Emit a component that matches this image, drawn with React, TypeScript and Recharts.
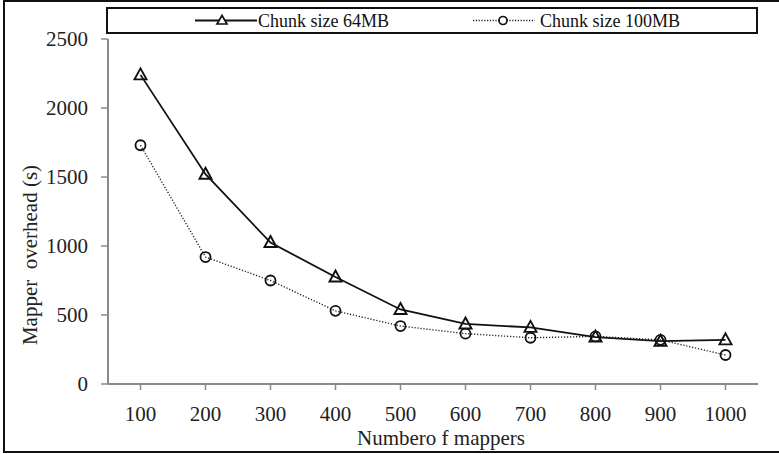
import React from "react";
import { LineChart, Line, XAxis, YAxis, Legend } from "recharts";

const categories = ["100", "200", "300", "400", "500", "600", "700", "800", "900", "1000"];
const chunk64 = [2240, 1520, 1025, 775, 540, 435, 410, 340, 310, 320];
const chunk100 = [1730, 920, 750, 530, 420, 365, 335, 345, 320, 210];
const yTicks = [0, 500, 1000, 1500, 2000, 2500];

const data = categories.map((c, i) => ({ x: c, s64: chunk64[i], s100: chunk100[i] }));

const FONT = '"Liberation Serif", "Times New Roman", serif';
const AXIS_GRAY = "#8a8a8a";

const TriangleDot = (props: any) => {
  const { cx, cy, index } = props;
  if (cx == null || cy == null) return <g key={index} />;
  return (
    <path
      key={index}
      d={`M${cx},${cy - 6.5} L${cx + 6},${cy + 4.5} L${cx - 6},${cy + 4.5} Z`}
      fill="none"
      stroke="#111"
      strokeWidth={1.9}
    />
  );
};

const CircleDot = (props: any) => {
  const { cx, cy, index } = props;
  if (cx == null || cy == null) return <g key={index} />;
  return <circle key={index} cx={cx} cy={cy} r={5} fill="none" stroke="#111" strokeWidth={1.8} />;
};

const LegendContent = () => (
  <div
    style={{
      width: "100%",
      height: "100%",
      boxSizing: "border-box",
      border: "2px solid #111",
      position: "relative",
      fontFamily: FONT,
      fontSize: 18,
      color: "#111",
    }}
  >
    <svg width={652} height={27} style={{ position: "absolute", left: -2, top: -2 }}>
      <line x1={89} y1={13.5} x2={151} y2={13.5} stroke="#111" strokeWidth={1.8} />
      <path d="M116,8.5 L121,17 L111,17 Z" fill="#fff" stroke="#111" strokeWidth={1.7} />
      <text x={152} y={19.5} fontFamily={FONT} fontSize={18} fill="#111">
        Chunk size 64MB
      </text>
      <line x1={367} y1={13.5} x2={429} y2={13.5} stroke="#222" strokeWidth={1.4} strokeDasharray="1.2 1.6" />
      <circle cx={397} cy={13.5} r={4} fill="#fff" stroke="#111" strokeWidth={1.7} />
      <text x={434} y={19.5} fontFamily={FONT} fontSize={18} fill="#111">
        Chunk size 100MB
      </text>
    </svg>
  </div>
);

export default function App() {
  return (
    <div
      style={{
        position: "absolute",
        left: 0,
        top: 0,
        width: 779,
        height: 454,
        overflow: "hidden",
        background: "#fff",
      }}
    >
      <div
        style={{
          position: "absolute",
          left: 3,
          top: 0,
          width: 820,
          height: 449,
          border: "2px solid #111",
        }}
      />
      <div style={{ position: "absolute", left: 0, top: 0 }}>
        <LineChart
          width={779}
          height={454}
          data={data}
          margin={{ top: 39, right: 21, bottom: 0, left: 0 }}
        >
          <XAxis
            dataKey="x"
            xAxisId="main"
            height={70}
            padding={{ left: 32.5, right: 32.5 }}
            axisLine={{ stroke: AXIS_GRAY, strokeWidth: 2 }}
            tickLine={{ stroke: AXIS_GRAY, strokeWidth: 1.5 }}
            tickSize={6}
            tickMargin={16}
            tick={{ fontFamily: FONT, fontSize: 21, fill: "#222" }}
            interval={0}
            label={(p: any) => (
              <text
                x={441}
                y={445}
                textAnchor="middle"
                fontFamily={FONT}
                fontSize={21}
                fill="#222"
              >
                Numbero f mappers
              </text>
            )}
          />
          <XAxis
            dataKey="x"
            xAxisId="top"
            orientation="top"
            height={0}
            padding={{ left: 32.5, right: 32.5 }}
            axisLine={{ stroke: "#111", strokeWidth: 2 }}
            tick={false}
            tickLine={false}
          />
          <YAxis
            yAxisId="main"
            width={108}
            domain={[0, 2500]}
            ticks={yTicks}
            axisLine={{ stroke: AXIS_GRAY, strokeWidth: 2 }}
            tickLine={{ stroke: AXIS_GRAY, strokeWidth: 1.5 }}
            tickSize={7}
            tickMargin={13}
            tick={{ fontFamily: FONT, fontSize: 21, fill: "#222" }}
            label={(p: any) => (
              <text
                x={37}
                y={255}
                transform="rotate(-90 37 255)"
                textAnchor="middle"
                fontFamily={FONT}
                fontSize={21}
                fill="#222"
                style={{ whiteSpace: "pre" }}
              >
                {"Mapper\u00a0 overhead (s)"}
              </text>
            )}
          />
          <YAxis
            yAxisId="right"
            orientation="right"
            width={0}
            domain={[0, 2500]}
            axisLine={{ stroke: "#111", strokeWidth: 2 }}
            tick={false}
            tickLine={false}
          />
          <Legend
            layout="horizontal"
            verticalAlign="middle"
            align="center"
            wrapperStyle={{ top: 7, left: 106, width: 652, height: 27 }}
            content={() => <LegendContent />}
          />
          <Line
            xAxisId="main"
            yAxisId="main"
            dataKey="s64"
            name="Chunk size 64MB"
            stroke="#111"
            strokeWidth={1.8}
            dot={TriangleDot}
            activeDot={false}
            isAnimationActive={false}
          />
          <Line
            xAxisId="main"
            yAxisId="main"
            dataKey="s100"
            name="Chunk size 100MB"
            stroke="#222"
            strokeWidth={1.4}
            strokeDasharray="1.2 1.8"
            dot={CircleDot}
            activeDot={false}
            isAnimationActive={false}
          />
        </LineChart>
      </div>
    </div>
  );
}
